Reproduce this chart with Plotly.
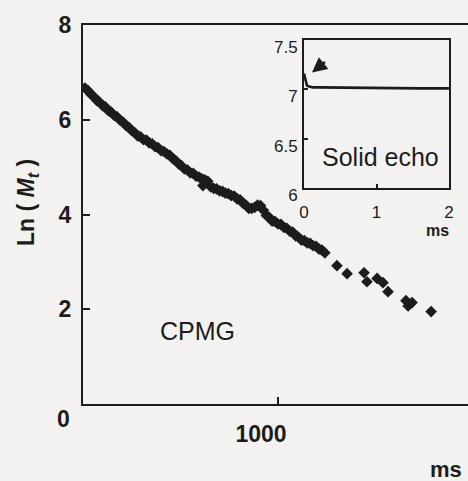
import plotly.graph_objects as go

W, H = 468, 481
FONT = "Liberation Sans, Arial, sans-serif"
INK = "#1c1c1c"
PAPER = "#f4f2f0"

# ---- CPMG decay (main panel) ----
cpmg_t = [10, 25, 40, 55, 70, 85, 100, 115, 130, 145, 160, 175, 190, 205, 220, 235,
          250, 265, 280, 295, 310, 325, 340, 355, 370, 385, 400, 415, 430, 445, 460,
          475, 490, 505, 520, 535, 550, 565, 580, 595, 610, 625, 640, 655, 670, 685,
          700, 715, 730, 745, 760, 775, 790, 805, 820, 835, 850, 865, 880, 895, 910,
          925, 940, 955, 970, 985, 1000, 1015, 1030, 1045, 1060, 1075, 1090, 1105,
          1120, 1135, 1150, 1165, 1180, 1195, 1210, 1225, 1240]
cpmg_ln = [6.67, 6.62, 6.54, 6.49, 6.41, 6.37, 6.30, 6.27, 6.19, 6.16,
           6.09, 6.06, 5.99, 5.95, 5.88, 5.84, 5.77, 5.73, 5.66, 5.64,
           5.58, 5.57, 5.51, 5.49, 5.43, 5.41, 5.35, 5.33, 5.28, 5.25,
           5.18, 5.14, 5.07, 5.03, 4.96, 4.94, 4.88, 4.87, 4.81, 4.79,
           4.75, 4.73, 4.70, 4.58, 4.55, 4.54, 4.50, 4.49, 4.45, 4.44,
           4.40, 4.39, 4.33, 4.31, 4.24, 4.20, 4.13, 4.13, 4.15, 4.20,
           4.19, 4.09, 3.98, 3.94, 3.86, 3.85, 3.80, 3.79, 3.73, 3.71,
           3.65, 3.63, 3.55, 3.52, 3.46, 3.45, 3.40, 3.39, 3.34, 3.33,
           3.27, 3.25, 3.19]
sparse_t = [615, 1302, 1354, 1441, 1456, 1508, 1538, 1564, 1656, 1667, 1687, 1785]
sparse_ln = [4.61, 2.92, 2.75, 2.77, 2.58, 2.65, 2.56, 2.37, 2.18, 2.07, 2.14, 1.95]

main_yticks = [2, 4, 6, 8]
main_xticks = [1000]

# ---- Solid echo (inset) ----
echo_t = [0, 0.01, 0.02, 0.03, 0.04, 0.06, 0.08, 0.12, 0.2, 0.4, 0.7, 1.0, 1.3, 1.6, 2.0]
echo_ln = [7.16, 7.13, 7.09, 7.06, 7.04, 7.03, 7.025, 7.02, 7.02, 7.018, 7.015,
           7.015, 7.012, 7.01, 7.01]
inset_yticks = [6, 6.5, 7, 7.5]
inset_xticks = [0, 1, 2]


def px(x):
    return x / W


def py(y):
    return 1 - y / H


fig = go.Figure()
fig.add_trace(go.Scatter(
    x=cpmg_t + sparse_t, y=cpmg_ln + sparse_ln, mode="markers",
    marker=dict(symbol="diamond", size=9, color=INK, line=dict(width=0)),
    xaxis="x", yaxis="y", showlegend=False, hoverinfo="skip"))
fig.add_trace(go.Scatter(
    x=echo_t, y=echo_ln, mode="lines",
    line=dict(color=INK, width=2.6),
    xaxis="x2", yaxis="y2", showlegend=False, hoverinfo="skip"))

tickfont_main = dict(family=FONT, size=23, color=INK, weight="bold")
tickfont_inset = dict(family=FONT, size=17, color=INK)

common = dict(showgrid=False, zeroline=False, showline=True, linecolor=INK,
              linewidth=2, automargin=False, tickcolor=INK, tickwidth=1.5,
              ticks="inside")

fig.update_layout(
    width=W, height=H,
    margin=dict(l=0, r=0, t=0, b=0, autoexpand=False),
    paper_bgcolor=PAPER, plot_bgcolor=PAPER,
    xaxis=dict(common, domain=[px(83), 1], range=[0, 1974], mirror=True,
               tickvals=main_xticks, ticktext=[str(v) for v in main_xticks],
               ticklen=7, tickfont=tickfont_main, ticklabelstandoff=8,
               ticklabelshift=-17),
    yaxis=dict(common, domain=[py(404), py(25)], range=[0, 8], mirror=False,
               tickvals=main_yticks, ticktext=[str(v) for v in main_yticks],
               ticklen=7, tickfont=tickfont_main, ticklabelstandoff=5),
    xaxis2=dict(common, domain=[px(304), px(449)], range=[0, 2], anchor="y2",
                mirror=True, tickvals=inset_xticks,
                ticktext=[str(v) for v in inset_xticks],
                ticklen=4, tickfont=tickfont_inset, ticklabelstandoff=8),
    yaxis2=dict(common, domain=[py(188), py(40)], range=[6, 7.5], anchor="x2",
                mirror=True, tickvals=inset_yticks,
                ticktext=["6", "6.5", "7", "7.5"],
                ticklen=4, tickfont=tickfont_inset, ticklabelstandoff=1,
                ticklabelshift=7),
)

ann = [
    dict(text="0", x=px(63), y=py(419), font=dict(family=FONT, size=23, color=INK, weight="bold")),
    dict(text="ms", x=px(446), y=py(469), font=dict(family=FONT, size=22, color=INK, weight="bold")),
    dict(text="CPMG", x=px(197), y=py(331), font=dict(family=FONT, size=25, color=INK)),
    dict(text="Solid echo", x=px(380), y=py(157), font=dict(family=FONT, size=25, color=INK)),
    dict(text="ms", x=px(437), y=py(230), font=dict(family=FONT, size=16, color=INK, weight="bold")),
    dict(text="Ln ( <i>M<sub>t</sub></i> )", x=px(27), y=py(203), textangle=-90,
         font=dict(family=FONT, size=23, color=INK, weight="bold")),
]
for a in ann:
    a.update(xref="paper", yref="paper", showarrow=False, xanchor="center", yanchor="middle")
    fig.add_annotation(**a)

# arrow pointing at the initial solid-echo spike
fig.add_annotation(x=0.11, y=7.17, ax=0.31, ay=7.29, xref="x2", yref="y2",
                   axref="x2", ayref="y2", text="", showarrow=True,
                   arrowhead=2, arrowsize=1.15, arrowwidth=2.6, arrowcolor=INK)

fig.write_html(
    "out.html",
    config={"displayModeBar": False},
    post_script="document.body.style.margin='0';document.body.style.overflow='hidden';",
)
